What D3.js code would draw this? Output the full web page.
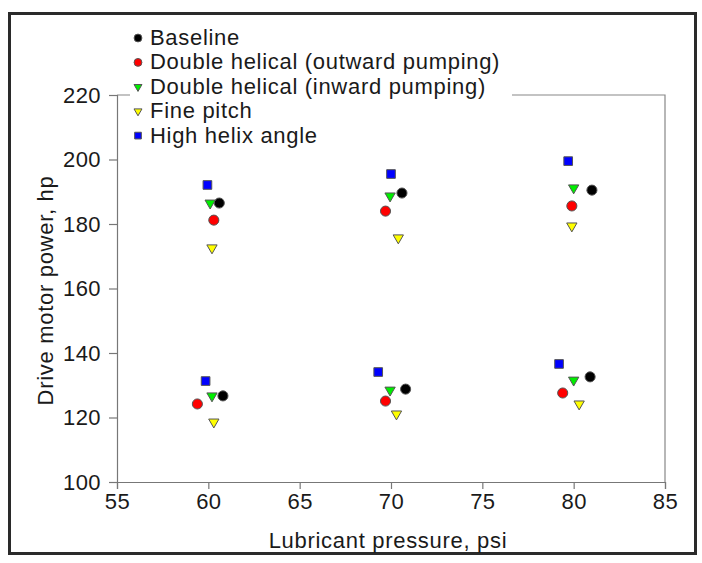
<!DOCTYPE html>
<html>
<head>
<meta charset="utf-8">
<script src="https://cdn.jsdelivr.net/npm/d3@7"></script>
<style>
  body { margin: 0; background: #fff; }
  text { font-family: "Liberation Sans", Arial, sans-serif; fill: #1a1a1a; }
</style>
</head>
<body>
<svg id="chart" width="702" height="563"></svg>
<script>
// series names and values (x = lubricant pressure, y = drive motor power)
const seriesNames = ["Baseline", "Double helical (outward pumping)", "Double helical (inward pumping)", "Fine pitch", "High helix angle"];
const baselineX = [60.6, 70.6, 81.0, 60.8, 70.8, 80.9];
const baselineY = [186.5, 189.6, 190.5, 126.7, 128.8, 132.6];
const outwardX = [60.3, 69.7, 79.9, 59.4, 69.7, 79.4];
const outwardY = [181.2, 184.0, 185.6, 124.2, 125.1, 127.6];
const inwardX = [60.1, 69.95, 80.0, 60.2, 69.95, 80.0];
const inwardY = [186.5, 188.7, 191.2, 126.7, 128.5, 131.6];
const fineX = [60.2, 70.4, 79.9, 60.3, 70.3, 80.3];
const fineY = [172.6, 175.7, 179.4, 118.6, 121.1, 124.2];
const helixX = [59.95, 70.0, 79.7, 59.85, 69.3, 79.2];
const helixY = [192.1, 195.5, 199.5, 131.3, 134.1, 136.6];
const xTicks = [55, 60, 65, 70, 75, 80, 85];
const yTicks = [100, 120, 140, 160, 180, 200, 220];

const series = [
  { name: seriesNames[0], xs: baselineX, ys: baselineY, color: "#000000", shape: "circle" },
  { name: seriesNames[1], xs: outwardX, ys: outwardY, color: "#ff0000", shape: "circle" },
  { name: seriesNames[2], xs: inwardX, ys: inwardY, color: "#00ee00", shape: "triangle" },
  { name: seriesNames[3], xs: fineX, ys: fineY, color: "#ffff00", shape: "triangle" },
  { name: seriesNames[4], xs: helixX, ys: helixY, color: "#0000ff", shape: "square" }
];

const svg = d3.select("#chart");
const margin = { left: 117, right: 37, top: 95, bottom: 81 };
const width = 702, height = 563;
const fontSize = 22;

const x = d3.scaleLinear().domain([55, 85]).range([margin.left, width - margin.right]);
const y = d3.scaleLinear().domain([100, 220]).range([height - margin.bottom, margin.top]);

// outer frame
svg.append("rect")
  .attr("x", 9.5).attr("y", 13.5)
  .attr("width", 686).attr("height", 540)
  .attr("fill", "none").attr("stroke", "#2a2a2a").attr("stroke-width", 3);

// plot box (top and right)
svg.append("path")
  .attr("d", `M${x(55)},${y(220)}H${x(85)}V${y(100)}`)
  .attr("fill", "none").attr("stroke", "#888").attr("stroke-width", 1.2);

const xAxis = svg.append("g")
  .attr("transform", `translate(0,${y(100)})`)
  .call(d3.axisBottom(x).tickValues(xTicks).tickSize(7).tickPadding(4));
const yAxis = svg.append("g")
  .attr("transform", `translate(${x(55)},0)`)
  .call(d3.axisLeft(y).tickValues(yTicks).tickSize(8).tickPadding(8));

[xAxis, yAxis].forEach(g => {
  g.selectAll("path, line").attr("stroke", "#777").attr("stroke-width", 1.2);
  g.selectAll("text").attr("font-size", fontSize).attr("fill", "#1a1a1a")
    .attr("letter-spacing", 0.4)
    .attr("font-family", "Liberation Sans, Arial, sans-serif");
});

svg.append("text")
  .attr("x", (x(55) + x(85)) / 2 - 3).attr("y", 548)
  .attr("text-anchor", "middle").attr("font-size", fontSize)
  .attr("letter-spacing", 0.7)
  .text("Lubricant pressure, psi");

svg.append("text")
  .attr("transform", `translate(53,${(y(100) + y(220)) / 2 + 2}) rotate(-90)`)
  .attr("text-anchor", "middle").attr("font-size", fontSize)
  .attr("letter-spacing", 0.7)
  .text("Drive motor power, hp");

const symbolType = { circle: d3.symbolCircle, triangle: d3.symbolTriangle, square: d3.symbolSquare };
const symbolSize = { circle: 80, triangle: 46, square: 75 };

function drawMarker(g, s, cx, cy, scale) {
  const sym = d3.symbol().type(symbolType[s.shape]).size(symbolSize[s.shape] * scale);
  const rot = s.shape === "triangle" ? " rotate(180)" : "";
  g.append("path")
    .attr("d", sym())
    .attr("transform", `translate(${cx},${cy})${rot}`)
    .attr("fill", s.color)
    .attr("stroke", "#555")
    .attr("stroke-width", 1);
}

const pts = svg.append("g");
series.forEach(s => {
  s.xs.forEach((xv, i) => drawMarker(pts, s, x(xv), y(s.ys[i]), 1));
});

// legend, white box hides the top border behind it
const legend = svg.append("g");
legend.append("rect")
  .attr("x", 130).attr("y", 22).attr("width", 382).attr("height", 128)
  .attr("fill", "#fff");
series.forEach((s, i) => {
  const ly = 45 + i * 24.4;
  drawMarker(legend, s, 138, ly - 7, 0.6);
  legend.append("text")
    .attr("x", 150).attr("y", ly)
    .attr("font-size", fontSize)
    .attr("letter-spacing", 0.7)
    .text(s.name);
});
</script>
</body>
</html>
